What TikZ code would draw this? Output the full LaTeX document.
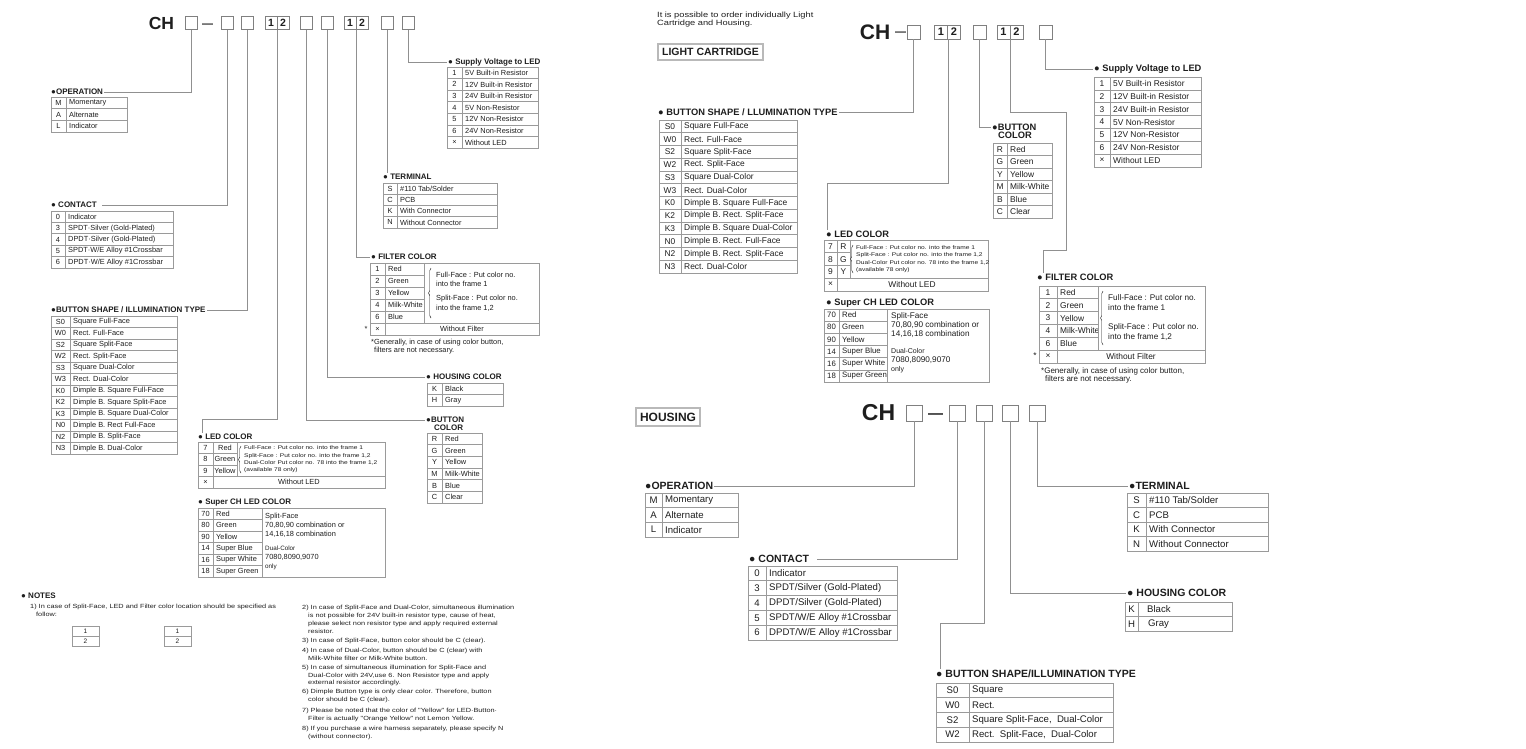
\documentclass[tikz,border=0pt]{standalone}
\usepackage{fontspec}
\setmainfont{Liberation Sans}
\newfontfamily\widefont[FakeStretch=1.22]{Liberation Sans}
\usetikzlibrary{decorations.pathreplacing}
\definecolor{ink}{HTML}{1E1E1E}
\definecolor{wiregray}{HTML}{909090}
\definecolor{gridgray}{HTML}{9A9A9A}
\definecolor{boxgray}{HTML}{808080}

\newcommand{\kvtab}[7]{%
  \foreach \code/\desc [count=\i] in {#7} {
    \pgfmathsetmacro{\ya}{#5+(\i-1)*#6}
    \pgfmathsetmacro{\yb}{\ya+#6}
    \pgfmathsetmacro{\ym}{\ya+#6/2}
    \draw[grid] (#2,\ya) rectangle (#4,\yb);
    \draw[grid] (#3,\ya) -- (#3,\yb);
    \node[kcell] (#1k\i) at ({(#2+#3)/2},\ym) {\code};
    \node[vcell] (#1v\i) at (#3,\ym) {\desc};
  }}

\begin{document}
\begin{tikzpicture}[x=1pt, y=-1pt,
  every node/.style={text=ink},
  wire/.style={draw=wiregray, line width=0.8pt},
  grid/.style={draw=gridgray, line width=0.7pt},
  kcell/.style={inner sep=0pt},
  vcell/.style={anchor=west, inner sep=0pt, xshift=3pt},
  hdr/.style={anchor=west, inner sep=1pt, font=\bfseries\fontsize{8}{9}\selectfont},
  hdrR/.style={hdr, font=\bfseries\fontsize{9.3}{10}\selectfont},
  hdrH/.style={hdr, font=\bfseries\fontsize{10.5}{11}\selectfont},
  chtxt/.style={inner sep=0pt, font=\bfseries\fontsize{17.5}{18}\selectfont},
  cbox/.style={draw=boxgray, line width=0.8pt, minimum width=12pt, minimum height=13pt, inner sep=0pt, font=\bfseries\fontsize{10.5}{11}\selectfont},
  tagbox/.style={draw=gray!55, line width=1.5pt, inner sep=0pt, font=\bfseries\fontsize{10.5}{11}\selectfont},
  brc/.style={draw=ink, line width=0.45pt, decorate, decoration={brace, amplitude=2.5pt}},
  smallnote/.style={anchor=west, align=left, inner sep=0pt, font=\widefont\fontsize{5.4}{7.3}\selectfont},
  notetxt/.style={anchor=west, align=left, inner sep=0pt, font=\widefont\fontsize{6}{7.9}\selectfont},
  nbox/.style={draw=gridgray, line width=0.7pt, minimum width=27pt, minimum height=10pt, inner sep=0pt, font=\fontsize{6.5}{7}\selectfont}]

\useasboundingbox (0,0) rectangle (1526,748);
\fill[white] (0,0) rectangle (1526,748);

% full ordering code
\node[chtxt] (lch) at (161.5,23) {CH};
\node[cbox] (lb1) at (191,23) {};
\node[inner sep=0pt, font=\bfseries\fontsize{11}{11}\selectfont] (ldash) at (207.5,25.5) {—};
\node[cbox] (lb2) at (227,23) {};
\node[cbox] (lb3) at (247,23) {};
\node[cbox] (lb4) at (271,23) {1};
\node[cbox] (lb5) at (283,23) {2};
\node[cbox] (lb6) at (306,23) {};
\node[cbox] (lb7) at (327,23) {};
\node[cbox] (lb8) at (350,23) {1};
\node[cbox] (lb9) at (362,23) {2};
\node[cbox] (lb10) at (387,23) {};
\node[cbox] (lb11) at (408,23) {};

\node[hdr] (hOp) at (50,92) {●OPERATION};
\node[hdr] (hCon) at (50,205) {● CONTACT};
\node[hdr] (hBtn) at (50,310) {●BUTTON SHAPE / ILLUMINATION TYPE};
\node[hdr] (hLed) at (197,437) {● LED COLOR};
\node[hdr] (hSch) at (197,503) {● Super CH LED COLOR};
\node[hdr] (hHcol) at (425,377) {● HOUSING COLOR};
\node[hdr] (hBcol) at (425,420) {●BUTTON};
\node[hdr] (hBcol2) at (433,428) {COLOR};
\node[hdr] (hSup) at (447,62) {● Supply Voltage to LED};
\node[hdr] (hTer) at (382,177) {● TERMINAL};
\node[hdr] (hFil) at (370,257) {● FILTER COLOR};

\coordinate (kLed) at (202,419);
\draw[wire] (lb1.south) |- (hOp.east);
\draw[wire] (lb2.south) |- ([xshift=4pt]hCon.east);
\draw[wire] (lb3.south) |- (hBtn.east);
\draw[wire] (lb4.south east) |- (kLed) -- (kLed |- hLed.north);
\draw[wire] (lb6.south) |- (hBcol.west);
\draw[wire] (lb7.south) |- (hHcol.west);
\draw[wire] (lb8.south east) |- (hFil.west);
\draw[wire] (lb10.south) -- (lb10.south |- hTer.north);
\draw[wire] (lb11.south) |- (hSup.west);

\begin{scope}[font=\fontsize{7.4}{9.5}\selectfont]
  \kvtab{op}{51}{66}{127}{97}{11.7}{M/Momentary,A/Alternate,L/Indicator}
  \kvtab{co}{51}{65}{173}{211}{11.4}{0/Indicator,3/SPDT·Silver (Gold-Plated),4/DPDT·Silver (Gold-Plated),5/{SPDT·W/E Alloy \#1Crossbar},6/{DPDT·W/E Alloy \#1Crossbar}}
  \kvtab{bs}{51}{70}{177}{316}{11.5}{S0/Square Full-Face,W0/Rect. Full-Face,S2/Square Split-Face,W2/Rect. Split-Face,S3/Square Dual-Color,W3/Rect. Dual-Color,K0/Dimple B. Square Full-Face,K2/Dimple B. Square Split-Face,K3/Dimple B. Square Dual-Color,N0/Dimple B. Rect Full-Face,N2/Dimple B. Split-Face,N3/Dimple B. Dual-Color}
  \kvtab{sv}{447}{462}{538}{67}{11.6}{1/5V Built-in Resistor,2/12V Built-in Resistor,3/24V Built-in Resistor,4/5V Non-Resistor,5/12V Non-Resistor,6/24V Non-Resistor,×/Without LED}
  \kvtab{te}{383}{397}{497}{183}{11.25}{S/{\#110 Tab/Solder},C/PCB,K/With Connector,N/Without Connector}
  \kvtab{hc}{427}{442}{503}{383}{11.5}{K/Black,H/Gray}
  \kvtab{bc}{427}{442}{482}{433}{11.67}{R/Red,G/Green,Y/Yellow,M/Milk-White,B/Blue,C/Clear}

  \kvtab{fc}{370}{385}{424}{263}{12}{1/Red,2/Green,3/Yellow,4/Milk-White,6/Blue}
  \draw[grid] (424,263) rectangle (539,323);
  \draw[grid] (370,323) rectangle (539,335);
  \draw[grid] (385,323) -- (385,335);
  \node[kcell] (fcx) at (377.5,329) {×};
  \node[kcell] (fcw) at (462,329) {Without Filter};
  \node[kcell] (fcs) at (366,329) {*};
  \draw[brc] (431,318) -- (431,268);
  \node[anchor=west, align=left, inner sep=0pt] (fct1) at (436,279.5) {Full-Face : Put color no.\\into the frame 1};
  \node[anchor=west, align=left, inner sep=0pt] (fct2) at (436,303.5) {Split-Face : Put color no.\\into the frame 1,2};
  \node[anchor=north west, align=left, inner sep=0pt, font=\fontsize{7.4}{8.3}\selectfont] (fcn) at (371,339) {*Generally, in case of using color button,\\\hspace*{3pt}filters are not necessary.};

  \foreach \code/\desc [count=\i] in {7/Red,8/Green,9/Yellow} {
    \pgfmathsetmacro{\ya}{442+(\i-1)*11.5}
    \draw[grid] (198,\ya) rectangle (237,\ya+11.5);
    \draw[grid] (213,\ya) -- (213,\ya+11.5);
    \node[kcell] (lck\i) at (205.5,\ya+5.75) {\code};
    \node[kcell] (lcv\i) at (225,\ya+5.75) {\desc};
  }
  \draw[grid] (237,442) rectangle (385,476.5);
  \draw[grid] (198,476.5) rectangle (385,488);
  \draw[grid] (213,476.5) -- (213,488);
  \node[kcell] (lcx) at (205.5,482.25) {×};
  \node[kcell] (lcw) at (299,482.25) {Without LED};
  \draw[brc] (241,473) -- (241,446);
  \node[smallnote] (lcn) at (244,459.5) {Full-Face : Put color no. into the frame 1\\Split-Face : Put color no. into the frame 1,2\\Dual-Color Put color no. 78 into the frame 1,2\\(available 78 only)};

  \kvtab{sc}{198}{213}{262}{508}{11.5}{70/Red,80/Green,90/Yellow,14/Super Blue,16/Super White,18/Super Green}
  \draw[grid] (262,508) rectangle (385,577);
  \node[anchor=west, align=left, inner sep=0pt, font=\fontsize{7.4}{9}\selectfont] (scn1) at (265,525) {Split-Face\\70,80,90 combination or\\14,16,18 combination};
  \node[anchor=west, align=left, inner sep=0pt, font=\fontsize{7.4}{9}\selectfont] (scn2) at (265,558) {{\fontsize{6.3}{9}\selectfont Dual-Color}\\7080,8090,9070\\{\fontsize{6.3}{9}\selectfont only}};
\end{scope}

% notes
\node[hdr] (hNotes) at (20,596) {● NOTES};
\node[notetxt] (n1) at (30,610) {1) In case of Split-Face, LED and Filter color location should be specified as\\\hspace*{6pt}follow:};
\node[nbox] (nb1a) at (85.5,631) {1};
\node[nbox] (nb1b) at (85.5,641) {2};
\node[nbox] (nb2a) at (177.5,631) {1};
\node[nbox] (nb2b) at (177.5,641) {2};
\node[notetxt] (n2) at (302,619) {2) In case of Split-Face and Dual-Color, simultaneous illumination\\\hspace*{6pt}is not possible for 24V built-in resistor type, cause of heat,\\\hspace*{6pt}please select non resistor type and apply required external\\\hspace*{6pt}resistor.};
\node[notetxt] (n3) at (302,641) {3) In case of Split-Face, button color should be C (clear).};
\node[notetxt] (n4) at (302,654.5) {4) In case of Dual-Color, button should be C (clear) with\\\hspace*{6pt}Milk-White filter or Milk-White button.};
\node[notetxt] (n5) at (302,675.5) {5) In case of simultaneous illumination for Split-Face and\\\hspace*{6pt}Dual-Color with 24V,use 6. Non Resistor type and apply\\\hspace*{6pt}external resistor accordingly.};
\node[notetxt] (n6) at (302,696) {6) Dimple Button type is only clear color. Therefore, button\\\hspace*{6pt}color should be C (clear).};
\node[notetxt] (n7) at (302,714.5) {7) Please be noted that the color of "Yellow" for LED·Button·\\\hspace*{6pt}Filter is actually "Orange Yellow" not Lemon Yellow.};
\node[notetxt] (n8) at (302,733) {8) If you purchase a wire harness separately, please specify N\\\hspace*{6pt}(without connector).};

% light cartridge
\node[anchor=west, inner sep=0pt, align=left, font=\widefont\fontsize{7.6}{8}\selectfont] (intro) at (657,19.5) {It is possible to order individually Light\\Cartridge and Housing.};
\node[tagbox, minimum width=105pt, minimum height=16pt] (tagLc) at (710.5,52) {LIGHT CARTRIDGE};
\node[chtxt, font=\bfseries\fontsize{21}{22}\selectfont] (rch) at (875,32) {CH};
\node[inner sep=0pt, font=\bfseries\fontsize{11}{11}\selectfont] (rdash) at (900.5,34) {—};
\node[cbox, minimum width=13pt, minimum height=14pt, font=\bfseries\fontsize{11}{11}\selectfont] (rA) at (913.5,32) {};
\node[cbox, minimum width=13pt, minimum height=14pt, font=\bfseries\fontsize{11}{11}\selectfont] (ra1) at (941,32) {1};
\node[cbox, minimum width=13pt, minimum height=14pt, font=\bfseries\fontsize{11}{11}\selectfont] (ra2) at (954,32) {2};
\node[cbox, minimum width=13pt, minimum height=14pt, font=\bfseries\fontsize{11}{11}\selectfont] (rB) at (979.5,32) {};
\node[cbox, minimum width=13pt, minimum height=14pt, font=\bfseries\fontsize{11}{11}\selectfont] (rb1) at (1003.5,32) {1};
\node[cbox, minimum width=13pt, minimum height=14pt, font=\bfseries\fontsize{11}{11}\selectfont] (rb2) at (1016.5,32) {2};
\node[cbox, minimum width=13pt, minimum height=14pt, font=\bfseries\fontsize{11}{11}\selectfont] (rC) at (1045.5,32) {};

\node[hdrR] (hBshR) at (657,112) {● BUTTON SHAPE / LLUMINATION TYPE};
\node[hdrR] (hSupR) at (1093,69) {● Supply Voltage to LED};
\node[hdrR] (hBcolR) at (991,127) {●BUTTON};
\node[hdrR] (hBcolR2) at (997,135.5) {COLOR};
\node[hdrR] (hLedR) at (825,234) {● LED COLOR};
\node[hdrR] (hSchR) at (825,303) {● Super CH LED COLOR};
\node[hdrR] (hFilR) at (1036,277) {● FILTER COLOR};

\coordinate (kLedR) at (827,183);
\coordinate (kFilA) at (1066,112);
\coordinate (kFilB) at (1043,250);
\draw[wire] (rA.south) |- (hBshR.east);
\draw[wire] (ra1.south east) |- (kLedR) -- (kLedR |- hLedR.north);
\draw[wire] (rB.south) |- (hBcolR.west);
\draw[wire] (rb1.south east) |- (kFilA) |- (kFilB) -- (kFilB |- hFilR.north);
\draw[wire] (rC.south) |- (hSupR.west);

\begin{scope}[font=\fontsize{8.4}{10}\selectfont]
  \kvtab{rbs}{659}{681}{797}{120}{12.75}{S0/Square Full-Face,W0/Rect. Full-Face,S2/Square Split-Face,W2/Rect. Split-Face,S3/Square Dual-Color,W3/Rect. Dual-Color,K0/Dimple B. Square Full-Face,K2/Dimple B. Rect. Split-Face,K3/Dimple B. Square Dual-Color,N0/Dimple B. Rect. Full-Face,N2/Dimple B. Rect. Split-Face,N3/Rect. Dual-Color}
  \kvtab{rsv}{1094}{1110}{1201}{77}{12.86}{1/5V Built-in Resistor,2/12V Built-in Resistor,3/24V Built-in Resistor,4/5V Non-Resistor,5/12V Non-Resistor,6/24V Non-Resistor,×/Without LED}
  \kvtab{rbc}{993}{1007}{1052}{143}{12.5}{R/Red,G/Green,Y/Yellow,M/Milk-White,B/Blue,C/Clear}

  \foreach \code/\desc [count=\i] in {7/R,8/G,9/Y} {
    \pgfmathsetmacro{\ya}{240+(\i-1)*12.75}
    \draw[grid] (824,\ya) rectangle (850,\ya+12.75);
    \draw[grid] (837,\ya) -- (837,\ya+12.75);
    \node[kcell] (rlk\i) at (830.5,\ya+6.375) {\code};
    \node[kcell] (rlv\i) at (843.5,\ya+6.375) {\desc};
  }
  \draw[grid] (850,240) rectangle (988,278.25);
  \draw[grid] (824,278.25) rectangle (988,291);
  \draw[grid] (837,278.25) -- (837,291);
  \node[kcell] (rlx) at (830.5,284.6) {×};
  \node[kcell] (rlw) at (912,284.6) {Without LED};
  \draw[brc] (853,273) -- (853,245);
  \node[smallnote] (rln) at (856,259) {Full-Face : Put color no. into the frame 1\\Split-Face : Put color no. into the frame 1,2\\Dual-Color Put color no. 78 into the frame 1,2\\(available 78 only)};

  \begin{scope}[font=\fontsize{7.8}{10}\selectfont]
    \kvtab{rsc}{824}{839}{887}{309}{12.17}{70/Red,80/Green,90/Yellow,14/Super Blue,16/Super White,18/Super Green}
  \end{scope}
  \draw[grid] (887,309) rectangle (989,382);
  \node[anchor=west, align=left, inner sep=0pt, font=\fontsize{8.2}{9}\selectfont] (rscn1) at (891,325) {Split-Face\\70,80,90 combination or\\14,16,18 combination};
  \node[anchor=west, align=left, inner sep=0pt, font=\fontsize{8.2}{9}\selectfont] (rscn2) at (891,361) {{\fontsize{7}{9}\selectfont Dual-Color}\\7080,8090,9070\\{\fontsize{7}{9}\selectfont only}};

  \kvtab{rfc}{1039}{1057}{1098}{286}{12.8}{1/Red,2/Green,3/Yellow,4/Milk-White,6/Blue}
  \draw[grid] (1098,286) rectangle (1205,350);
  \draw[grid] (1039,350) rectangle (1205,363);
  \draw[grid] (1057,350) -- (1057,363);
  \node[kcell] (rfx) at (1048,356.5) {×};
  \node[kcell] (rfw) at (1131,356.5) {Without Filter};
  \node[kcell] (rfs) at (1035,356) {*};
  \draw[brc] (1103,345) -- (1103,291);
  \node[anchor=west, align=left, inner sep=0pt, font=\fontsize{8.2}{10.5}\selectfont] (rft1) at (1108,302.5) {Full-Face : Put color no.\\into the frame 1};
  \node[anchor=west, align=left, inner sep=0pt, font=\fontsize{8.2}{10.5}\selectfont] (rft2) at (1108,332) {Split-Face : Put color no.\\into the frame 1,2};
  \node[anchor=north west, align=left, inner sep=0pt, font=\fontsize{8}{8.5}\selectfont] (rfn) at (1041,367) {*Generally, in case of using color button,\\\hspace*{4pt}filters are not necessary.};
\end{scope}

% housing
\node[tagbox, minimum width=64pt, minimum height=18pt, font=\bfseries\fontsize{12}{12}\selectfont] (tagHs) at (668,417) {HOUSING};
\node[chtxt, font=\bfseries\fontsize{23}{24}\selectfont] (hch) at (878.5,413) {CH};
\node[inner sep=0pt, font=\bfseries\fontsize{15}{15}\selectfont] (hdash) at (935.5,416) {—};
\node[cbox, minimum width=16pt, minimum height=16pt] (hb1) at (914,413) {};
\node[cbox, minimum width=16pt, minimum height=16pt] (hb2) at (957,413) {};
\node[cbox, minimum width=16pt, minimum height=16pt] (hb3) at (984,413) {};
\node[cbox, minimum width=16pt, minimum height=16pt] (hb4) at (1010.5,413) {};
\node[cbox, minimum width=16pt, minimum height=16pt] (hb5) at (1037,413) {};

\node[hdrH] (hOpH) at (644,486) {●OPERATION};
\node[hdrH] (hConH) at (748,559) {● CONTACT};
\node[hdrH] (hTerH) at (1128,486) {●TERMINAL};
\node[hdrH] (hHcolH) at (1126,593) {● HOUSING COLOR};
\node[hdrH] (hBshH) at (935,674) {● BUTTON SHAPE/ILLUMINATION TYPE};

\coordinate (kBshH) at (940,623);
\draw[wire] (hb1.south) |- (hOpH.east);
\draw[wire] (hb2.south) |- ([xshift=7pt]hConH.east);
\draw[wire] (hb3.south) |- (kBshH) -- (kBshH |- hBshH.north);
\draw[wire] (hb4.south) |- (hHcolH.west);
\draw[wire] (hb5.south) |- (hTerH.west);

\begin{scope}[font=\fontsize{9.6}{11}\selectfont]
  \kvtab{hop}{645}{662}{738}{493}{14.67}{M/Momentary,A/Alternate,L/Indicator}
  \kvtab{hco}{748}{766}{897}{566}{14.8}{0/Indicator,3/{SPDT/Silver (Gold-Plated)},4/{DPDT/Silver (Gold-Plated)},5/{SPDT/W/E Alloy \#1Crossbar},6/{DPDT/W/E Alloy \#1Crossbar}}
  \kvtab{hte}{1127}{1146}{1268}{493}{14.5}{S/{\#110 Tab/Solder},C/PCB,K/With Connector,N/Without Connector}
  \kvtab{hhc}{1125}{1138}{1232}{602}{14.5}{K/{\hspace*{6pt}Black},H/{\hspace*{7pt}Gray}}
  \kvtab{hbs}{936}{969}{1113}{683}{14.75}{S0/Square,W0/Rect.,S2/{Square Split-Face,\ \ Dual-Color},W2/{Rect.\ \ Split-Face,\ \ Dual-Color}}
\end{scope}
\end{tikzpicture}
\end{document}
